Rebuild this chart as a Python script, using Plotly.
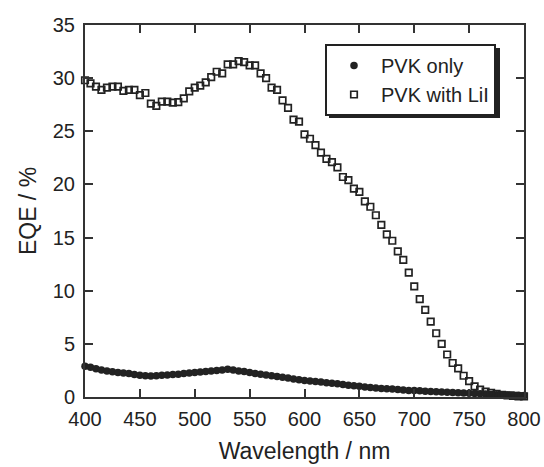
import plotly.graph_objects as go

wavelength = list(range(400, 805, 5))

pvk_only = [2.9, 2.8, 2.65, 2.55, 2.45, 2.38, 2.3, 2.25, 2.2, 2.12,
            2.05, 2.0, 1.98, 2.0, 2.05, 2.08, 2.12, 2.15, 2.2, 2.25,
            2.3, 2.35, 2.4, 2.45, 2.5, 2.55, 2.6, 2.55, 2.45, 2.4,
            2.3, 2.22, 2.15, 2.08, 2.0, 1.92, 1.85, 1.78, 1.7, 1.62,
            1.55, 1.5, 1.45, 1.4, 1.35, 1.3, 1.25, 1.18, 1.1, 1.05,
            1.0, 0.95, 0.9, 0.85, 0.8, 0.78, 0.75, 0.7, 0.65, 0.62,
            0.6, 0.58, 0.55, 0.52, 0.5, 0.48, 0.45, 0.42, 0.4, 0.38,
            0.35, 0.32, 0.3, 0.28, 0.25, 0.22, 0.2, 0.19, 0.18, 0.16, 0.15]

pvk_lii = [29.8, 29.5, 29.2, 28.9, 29.1, 29.2, 29.2, 28.8, 28.9, 28.9,
           28.4, 28.6, 27.6, 27.4, 27.8, 27.8, 27.7, 27.75, 28.1, 28.75,
           29.1, 29.3, 29.6, 30.1, 30.6, 30.45, 31.3, 31.3, 31.6, 31.5,
           31.2, 31.2, 30.45, 30.0, 29.1, 28.9, 27.9, 27.2, 26.1, 25.9,
           24.7, 24.3, 23.7, 23.0, 22.4, 22.1, 21.6, 20.7, 20.4, 19.6,
           19.3, 18.4, 17.9, 17.1, 16.2, 15.3, 14.7, 13.7, 12.9, 11.7,
           10.4, 9.2, 8.2, 7.1, 6.0, 5.0, 4.0, 3.2, 2.7, 2.0,
           1.5, 1.0, 0.7, 0.5, 0.4, 0.3, 0.2, 0.15, 0.1, 0.05, 0.05]

x_ticks = [400, 450, 500, 550, 600, 650, 700, 750, 800]
y_ticks = [0, 5, 10, 15, 20, 25, 30, 35]

ink = "#222222"
font_family = "Liberation Sans, Arial, sans-serif"

fig = go.Figure()
fig.add_trace(go.Scatter(
    x=wavelength, y=pvk_only, mode="markers", name="PVK only",
    marker=dict(symbol="circle", size=7.5, color=ink, line=dict(width=0)),
    cliponaxis=False,
))
fig.add_trace(go.Scatter(
    x=wavelength, y=pvk_lii, mode="markers", name="PVK with LiI",
    marker=dict(symbol="square-open", size=6.5, color=ink, line=dict(width=1.7, color=ink)),
    cliponaxis=False,
))

axis_common = dict(
    showline=True, linewidth=2, linecolor="#333333", mirror="ticks",
    ticks="inside", ticklen=8, tickwidth=1.5, tickcolor="#333333",
    showgrid=False, zeroline=False, automargin=False,
    tickfont=dict(size=20, color=ink, family=font_family),
)

fig.update_xaxes(range=[400, 800], tickvals=x_ticks, ticklabelstandoff=3,
                 title=dict(text="Wavelength / nm", font=dict(size=23, color=ink, family=font_family), standoff=14),
                 **axis_common)
fig.update_yaxes(range=[0, 35], tickvals=y_ticks, ticklabelstandoff=4,
                 title=dict(text="EQE / %", font=dict(size=23, color=ink, family=font_family), standoff=10),
                 **axis_common)

# legend drop shadow (pixel offsets converted to paper fractions)
plot_w, plot_h = 544 - 85 - 20, 467 - 25 - 70
lx0, ly0, lx1, ly1 = 329, 48, 500, 118  # shadow extents in px
fig.add_shape(type="rect", xref="paper", yref="paper", layer="above",
              x0=(lx0 - 85) / plot_w, x1=(lx1 - 85) / plot_w,
              y0=(397 - ly1) / plot_h, y1=(397 - ly0) / plot_h,
              fillcolor=ink, line=dict(width=0))

fig.update_layout(
    width=544, height=467,
    margin=dict(l=85, r=20, t=25, b=70),
    paper_bgcolor="white", plot_bgcolor="white",
    font=dict(family=font_family, color=ink),
    legend=dict(
        x=(325 - 85) / plot_w, y=(397 - 44) / plot_h, xanchor="left", yanchor="top",
        bgcolor="white", bordercolor=ink, borderwidth=2,
        font=dict(size=20, color=ink, family=font_family),
        itemwidth=44, tracegroupgap=0,
    ),
)

fig.write_html("out.html")
